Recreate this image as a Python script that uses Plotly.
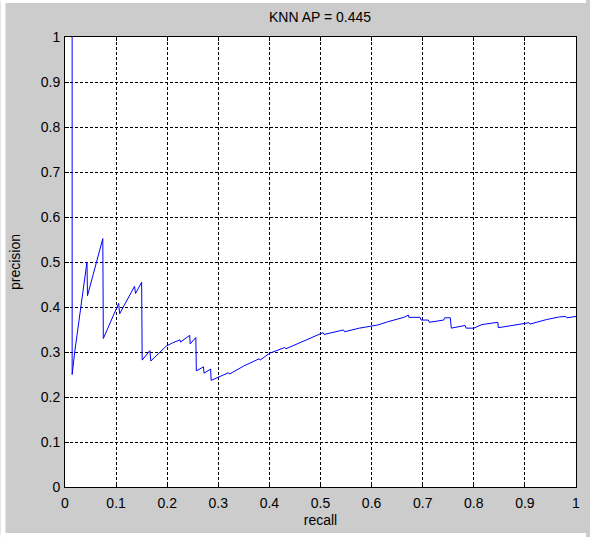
import plotly.graph_objects as go

# ---- data ----
recall = [0.014, 0.014, 0.019, 0.031, 0.043, 0.044, 0.074, 0.075, 0.105, 0.107,
          0.136, 0.138, 0.150, 0.151, 0.166, 0.168, 0.198, 0.210, 0.225, 0.226,
          0.244, 0.245, 0.256, 0.257, 0.271, 0.272, 0.285, 0.286, 0.320, 0.322,
          0.350, 0.380, 0.382, 0.400, 0.430, 0.432, 0.450, 0.480, 0.500, 0.505,
          0.507, 0.530, 0.545, 0.547, 0.576, 0.612, 0.631, 0.663, 0.672, 0.673,
          0.695, 0.697, 0.711, 0.713, 0.741, 0.743, 0.754, 0.756, 0.783, 0.785,
          0.800, 0.816, 0.841, 0.847, 0.848, 0.864, 0.896, 0.908, 0.910, 0.942,
          0.968, 0.980, 0.982, 1.000]
precision = [1.000, 0.250, 0.300, 0.400, 0.500, 0.425, 0.552, 0.330, 0.408, 0.385,
             0.446, 0.430, 0.455, 0.282, 0.303, 0.280, 0.313, 0.320, 0.327, 0.322,
             0.337, 0.318, 0.332, 0.258, 0.267, 0.253, 0.262, 0.237, 0.254, 0.251,
             0.269, 0.285, 0.282, 0.297, 0.310, 0.307, 0.316, 0.330, 0.341, 0.343,
             0.339, 0.345, 0.349, 0.345, 0.353, 0.360, 0.367, 0.377, 0.382, 0.377,
             0.377, 0.371, 0.371, 0.366, 0.371, 0.376, 0.376, 0.353, 0.359, 0.353,
             0.353, 0.361, 0.364, 0.366, 0.354, 0.357, 0.363, 0.365, 0.362, 0.372,
             0.378, 0.379, 0.376, 0.379]
tick_vals = [0, 0.1, 0.2, 0.3, 0.4, 0.5, 0.6, 0.7, 0.8, 0.9, 1]
tick_text = ["0", "0.1", "0.2", "0.3", "0.4", "0.5", "0.6", "0.7", "0.8", "0.9", "1"]
title_text = "KNN AP = 0.445"
x_label = "recall"
y_label = "precision"

W, H = 590, 537
L, R, T, B = 65, 10, 37, 50
PW, PH = W - L - R, H - T - B
FONT = "Liberation Sans, Arial, sans-serif"
FS = 14

fig = go.Figure(go.Scatter(x=recall, y=precision, mode="lines",
                           line=dict(color="#0000ff", width=1), showlegend=False,
                           hoverinfo="skip"))

axis = dict(range=[0, 1], tickmode="array", tickvals=tick_vals, ticktext=tick_text,
            showgrid=True, gridcolor="black", gridwidth=1, griddash="3px,2px",
            showline=True, linecolor="black", linewidth=1, mirror="ticks",
            ticks="inside", ticklen=4, tickcolor="black", zeroline=False,
            tickfont=dict(family=FONT, size=FS, color="black"), fixedrange=True)

fig.update_layout(
    width=W, height=H,
    margin=dict(l=L, r=R, t=T, b=B, pad=0),
    paper_bgcolor="#cccccc", plot_bgcolor="white",
    title=dict(text=title_text, x=(322 - L) / PW, xref="paper", xanchor="center",
               y=1 - 17 / H, yref="container", yanchor="middle",
               font=dict(family=FONT, size=FS, color="black")),
    xaxis=dict(axis, ticklabelstandoff=3,
               title=dict(text=x_label, standoff=5,
                          font=dict(family=FONT, size=FS, color="black"))),
    yaxis=dict(axis, ticklabelstandoff=1,
               title=dict(text=y_label, standoff=16,
                          font=dict(family=FONT, size=FS, color="black"))),
)

def px_to_paper_x(px):
    return (px - L) / PW

def px_to_paper_y(py):
    return (H - B - py) / PH

# thin white border around the grey figure area
for (x0, x1, y0, y1) in [(0, W, 0, 3), (0, 5, 0, H), (0, W, 533, H)]:
    fig.add_shape(type="rect", xref="paper", yref="paper",
                  x0=px_to_paper_x(x0), x1=px_to_paper_x(x1),
                  y0=px_to_paper_y(y1), y1=px_to_paper_y(y0),
                  fillcolor="white", line=dict(width=0), layer="above")

fig.write_html("out.html")
